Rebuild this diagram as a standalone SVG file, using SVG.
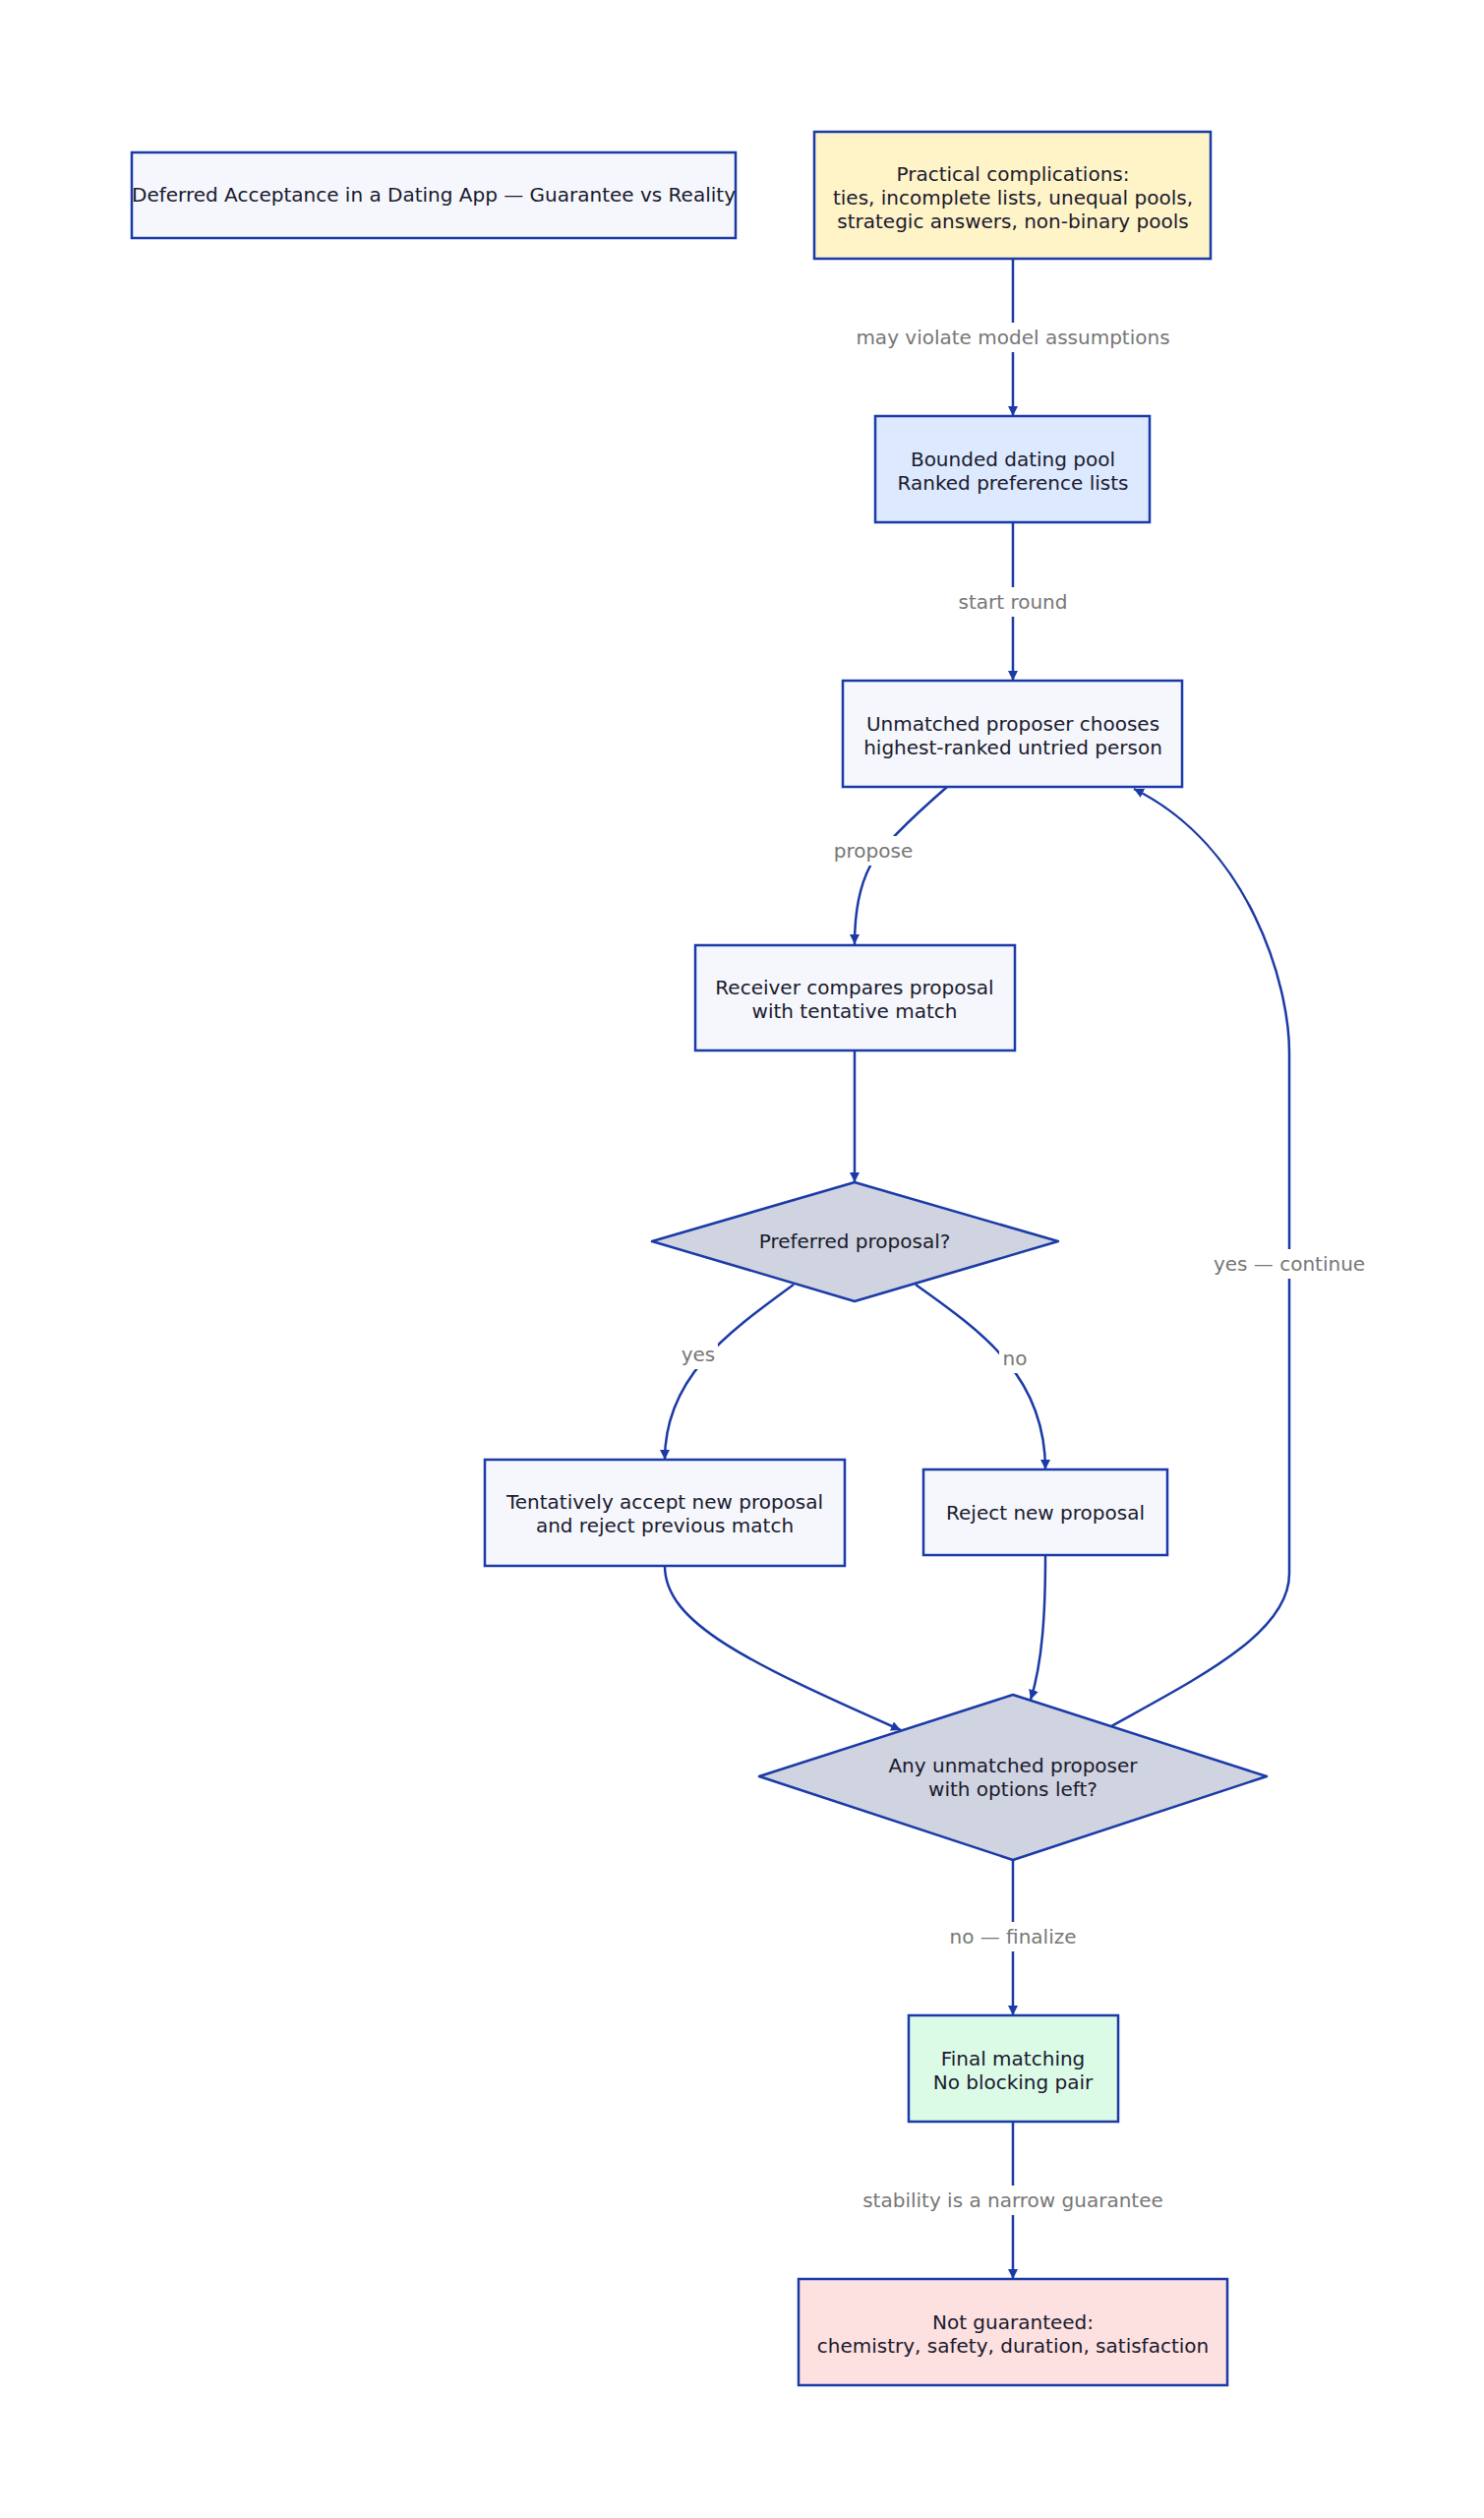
<svg xmlns="http://www.w3.org/2000/svg" width="1509" height="2560" viewBox="0 0 1509 2560">
<defs>
<marker id="ah" viewBox="0 0 10 10" refX="10" refY="5" markerWidth="10" markerHeight="10" markerUnits="userSpaceOnUse" orient="auto"><path d="M0,0 L10,5 L0,10 z" fill="#1a3aa8"/></marker>
<style>
.n{stroke:#1a3aa8;stroke-width:2.5;fill:#f5f7fd}
.d{stroke:#1a3aa8;stroke-width:2.5;fill:#d0d3e0;stroke-linejoin:round}
.t{font-family:"DejaVu Sans",sans-serif;font-size:20px;fill:#1a1a2e;text-anchor:middle}
.l{font-family:"DejaVu Sans",sans-serif;font-size:20px;fill:#777;text-anchor:middle}
.e{fill:none;stroke:#1a3aa8;stroke-width:2.5;marker-end:url(#ah)}
.bg{fill:#fff}
</style>
</defs>
<rect width="1509" height="2560" fill="#fff"/>
<g id="connectors">
<path class="e" d="M1030,263 L1030,423"/>
<path class="e" d="M1030,531 L1030,692"/>
<path class="e" d="M963,800 Q900,855 885,880 Q869,910 869,960"/>
<path class="e" d="M869,1068 L869,1202"/>
<path class="e" d="M807,1306 C740,1355 676,1400 676,1484"/>
<path class="e" d="M931,1306 C1000,1355 1063,1400 1063,1494"/>
<path class="e" d="M676,1592 C676,1650 760,1690 916,1759"/>
<path class="e" d="M1063,1581 C1063,1640 1060,1690 1048,1728"/>
<path class="e" d="M1030,1891 L1030,2049"/>
<path class="e" d="M1030,2157 L1030,2317"/>
<path class="e" d="M1130,1755 C1220,1705 1311,1660 1311,1600 L1311,1070 C1311,1000 1270,860 1153,802"/>
<g>
<rect class="bg" x="860" y="328" width="340" height="30"/><text class="l" x="1030" y="350">may violate model assumptions</text>
<rect class="bg" x="970" y="597" width="120" height="30"/><text class="l" x="1030" y="619">start round</text>
<rect class="bg" x="845" y="850" width="86" height="30"/><text class="l" x="888" y="872">propose</text>
<rect class="bg" x="690" y="1362" width="40" height="30"/><text class="l" x="710" y="1384">yes</text>
<rect class="bg" x="1016" y="1366" width="32" height="30"/><text class="l" x="1032" y="1388">no</text>
<rect class="bg" x="1228" y="1270" width="166" height="30"/><text class="l" x="1311" y="1292">yes — continue</text>
<rect class="bg" x="958" y="1954" width="144" height="30"/><text class="l" x="1030" y="1976">no — finalize</text>
<rect class="bg" x="866" y="2222" width="328" height="30"/><text class="l" x="1030" y="2244">stability is a narrow guarantee</text>
</g>
</g>
<g id="title"><rect class="n" x="134" y="155" width="614" height="87"/><text class="t" x="441" y="205">Deferred Acceptance in a Dating App — Guarantee vs Reality</text></g>
<g id="practical"><rect class="n" x="828" y="134" width="403" height="129" fill="#fff3c8" style="fill:#fff3c8"/><text class="t" x="1030" y="184">Practical complications:</text><text class="t" x="1030" y="208">ties, incomplete lists, unequal pools,</text><text class="t" x="1030" y="232">strategic answers, non-binary pools</text></g>
<g id="pool"><rect class="n" x="890" y="423" width="279" height="108" style="fill:#dce9ff"/><text class="t" x="1030" y="474">Bounded dating pool</text><text class="t" x="1030" y="498">Ranked preference lists</text></g>
<g id="choose"><rect class="n" x="857" y="692" width="345" height="108"/><text class="t" x="1030" y="743">Unmatched proposer chooses</text><text class="t" x="1030" y="767">highest-ranked untried person</text></g>
<g id="receiver"><rect class="n" x="707" y="961" width="325" height="107"/><text class="t" x="869" y="1011">Receiver compares proposal</text><text class="t" x="869" y="1035">with tentative match</text></g>
<g id="preferred"><path class="d" d="M869,1202 L1076,1262 L869,1323 L663,1262 Z"/><text class="t" x="869" y="1269">Preferred proposal?</text></g>
<g id="accept"><rect class="n" x="493" y="1484" width="366" height="108"/><text class="t" x="676" y="1534">Tentatively accept new proposal</text><text class="t" x="676" y="1558">and reject previous match</text></g>
<g id="reject"><rect class="n" x="939" y="1494" width="248" height="87"/><text class="t" x="1063" y="1545">Reject new proposal</text></g>
<g id="any"><path class="d" d="M1030,1723 L1288,1806 L1030,1891 L772,1806 Z"/><text class="t" x="1030" y="1802">Any unmatched proposer</text><text class="t" x="1030" y="1826">with options left?</text></g>
<g id="final"><rect class="n" x="924" y="2049" width="213" height="108" style="fill:#dcfbe6"/><text class="t" x="1030" y="2100">Final matching</text><text class="t" x="1030" y="2124">No blocking pair</text></g>
<g id="notg"><rect class="n" x="812" y="2317" width="436" height="108" style="fill:#fde0e0"/><text class="t" x="1030" y="2368">Not guaranteed:</text><text class="t" x="1030" y="2392">chemistry, safety, duration, satisfaction</text></g>
</svg>
